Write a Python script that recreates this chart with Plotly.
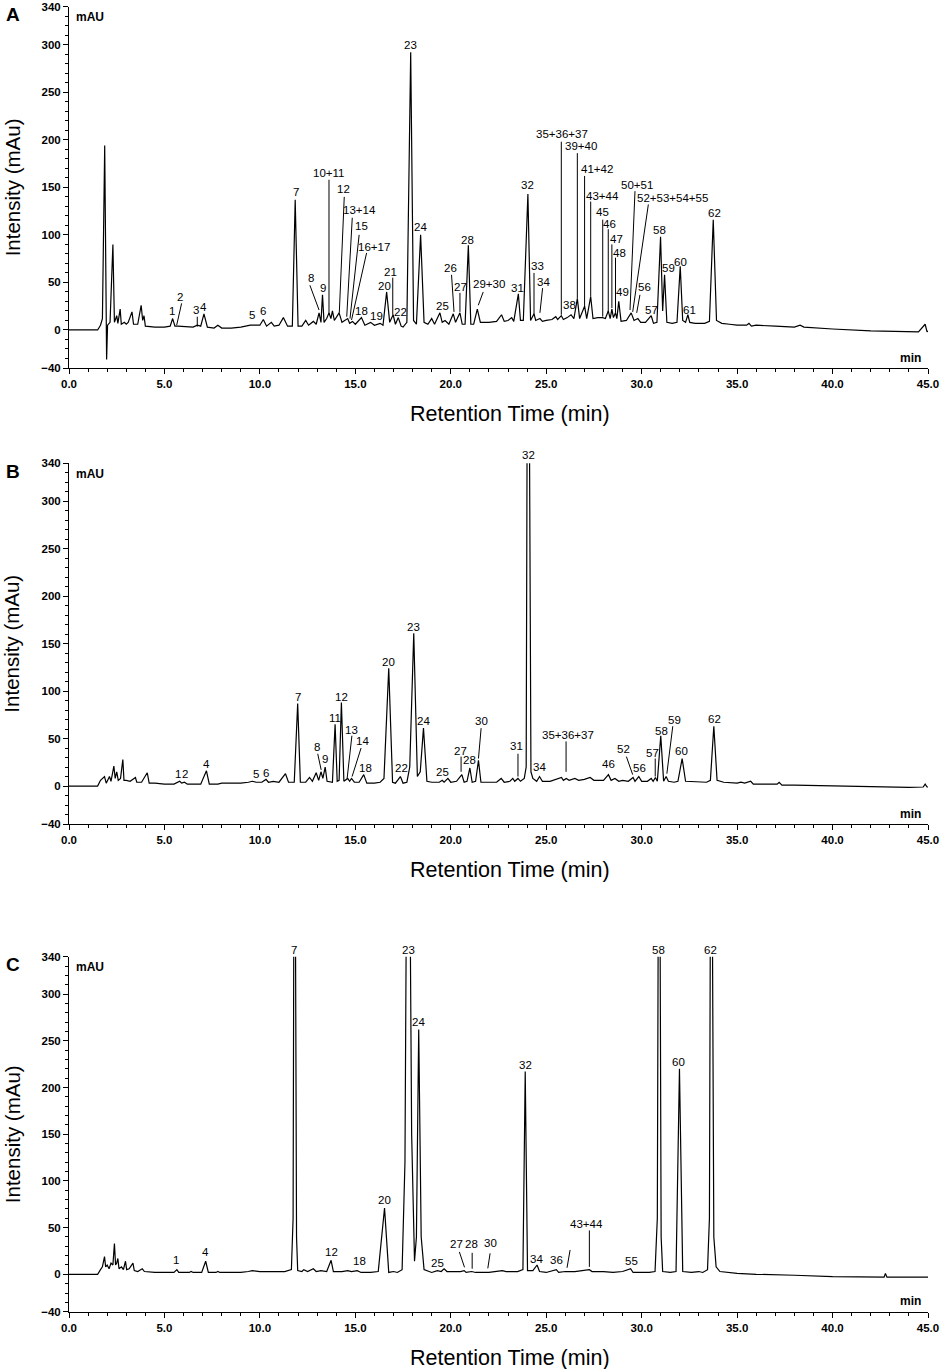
import plotly.graph_objects as go

# chromatogram traces: (retention time [min], intensity [mAU])
a_trace = [
    (0.0, 0), (1.5, 0), (1.65, 5), (1.75, 12), (1.87, 194), (1.93, 5), (1.97, -31), (2.02, 5),
    (2.15, 8), (2.3, 90), (2.38, 8), (2.5, 15), (2.56, 7), (2.68, 22), (2.74, 6), (2.9, 8),
    (3.0, 6), (3.1, 8), (3.3, 19), (3.38, 6), (3.6, 6), (3.78, 26), (3.86, 10), (3.93, 15),
    (4.0, 4), (4.5, 3), (5.0, 3), (5.3, 4), (5.43, 12), (5.55, 4), (5.7, 4), (6.5, 3),
    (6.72, 5), (6.9, 4), (7.07, 17), (7.25, 3), (7.6, 2), (7.8, 5), (8.0, 2), (8.5, 2),
    (9.0, 3), (9.5, 5), (9.8, 5), (10.0, 5), (10.18, 11), (10.35, 4), (10.6, 8), (10.75, 4),
    (11.0, 5), (11.23, 13), (11.45, 4), (11.7, 4), (11.85, 137), (12.0, 4), (12.2, 4),
    (12.4, 10), (12.55, 5), (12.8, 9), (12.95, 6), (13.1, 18), (13.2, 8), (13.28, 37),
    (13.36, 8), (13.5, 12), (13.62, 18), (13.72, 12), (13.8, 20), (13.9, 10), (14.15, 18),
    (14.3, 8), (14.6, 12), (14.7, 7), (14.85, 9), (15.0, 6), (15.32, 13), (15.5, 5),
    (15.8, 8), (16.0, 5), (16.3, 7), (16.45, 5), (16.64, 40), (16.8, 8), (16.98, 16),
    (17.1, 6), (17.25, 13), (17.4, 4), (17.5, 3), (17.7, 8), (17.9, 292), (18.05, 10),
    (18.2, 6), (18.42, 100), (18.6, 8), (18.8, 6), (19.0, 12), (19.15, 6), (19.43, 18),
    (19.55, 8), (19.7, 10), (19.9, 6), (20.13, 17), (20.25, 8), (20.48, 18), (20.6, 6),
    (20.75, 6), (20.92, 89), (21.05, 6), (21.2, 6), (21.39, 22), (21.55, 8), (22.0, 8),
    (22.4, 9), (22.66, 16), (22.8, 9), (23.0, 10), (23.19, 13), (23.3, 9), (23.54, 38),
    (23.65, 10), (23.8, 10), (24.04, 143), (24.18, 10), (24.36, 17), (24.45, 10),
    (24.67, 12), (24.8, 9), (25.0, 10), (25.3, 11), (25.5, 14), (25.6, 11), (25.79, 15),
    (25.9, 11), (26.1, 13), (26.3, 16), (26.45, 12), (26.63, 33), (26.75, 12), (27.01, 25),
    (27.12, 12), (27.33, 35), (27.45, 12), (27.7, 13), (27.95, 13), (28.1, 12), (28.25, 20),
    (28.35, 12), (28.44, 22), (28.52, 13), (28.63, 18), (28.7, 12), (28.8, 30), (28.92, 9),
    (29.2, 10), (29.45, 18), (29.6, 10), (29.8, 12), (29.95, 8), (30.2, 8), (30.5, 15),
    (30.62, 7), (30.8, 8), (30.99, 98), (31.1, 20), (31.2, 58), (31.32, 8), (31.6, 7),
    (31.85, 8), (32.02, 67), (32.15, 10), (32.3, 8), (32.42, 16), (32.52, 8), (32.8, 7),
    (33.3, 7), (33.55, 9), (33.75, 116), (33.92, 10), (34.2, 7), (34.6, 6), (35.0, 5),
    (35.5, 5), (35.62, 7), (35.75, 4), (36.0, 5), (37.0, 4), (38.0, 3), (38.3, 5), (38.5, 3),
    (40.0, 1), (42.0, -1), (44.5, -2), (44.85, 6), (44.95, -2), (45.0, -1),
]

b_trace = [
    (0.0, 0), (1.5, 0), (1.65, 6), (1.86, 10), (1.95, 3), (2.05, 8), (2.12, 10), (2.2, 5),
    (2.35, 21), (2.42, 8), (2.5, 15), (2.58, 6), (2.7, 8), (2.82, 28), (2.88, 6), (3.0, 6),
    (3.2, 5), (3.48, 9), (3.55, 4), (3.8, 4), (4.1, 14), (4.2, 3), (4.5, 3), (5.0, 2),
    (5.5, 2), (5.8, 5), (5.9, 3), (6.05, 4), (6.2, 2), (6.9, 2), (7.2, 16), (7.35, 2),
    (7.8, 2), (8.0, 3), (9.0, 3), (9.4, 4), (9.6, 5), (9.8, 4), (10.1, 4), (10.32, 7),
    (10.45, 4), (10.7, 5), (11.0, 4), (11.34, 13), (11.5, 4), (11.8, 4), (11.98, 87),
    (12.12, 4), (12.4, 4), (12.6, 9), (12.75, 5), (12.95, 14), (13.08, 6), (13.2, 15),
    (13.3, 8), (13.42, 20), (13.52, 5), (13.8, 4), (13.94, 65), (14.05, 5), (14.15, 6),
    (14.27, 88), (14.4, 5), (14.6, 8), (14.7, 5), (14.8, 8), (14.95, 4), (15.2, 4),
    (15.44, 12), (15.6, 3), (16.0, 3), (16.3, 4), (16.5, 8), (16.75, 124), (16.95, 4),
    (17.1, 3), (17.36, 10), (17.5, 3), (17.7, 4), (17.85, 20), (18.06, 161), (18.25, 10),
    (18.4, 15), (18.57, 61), (18.75, 5), (19.0, 4), (19.4, 4), (19.55, 6), (19.65, 4),
    (19.85, 8), (20.0, 4), (20.3, 5), (20.58, 12), (20.7, 4), (20.85, 5), (21.0, 19),
    (21.12, 4), (21.3, 5), (21.45, 27), (21.58, 4), (22.0, 4), (22.4, 4), (22.64, 8),
    (22.8, 4), (23.1, 5), (23.25, 8), (23.35, 5), (23.52, 8), (23.65, 5), (23.85, 8),
    (23.95, 20), (24.0, 380), (24.12, 380), (24.2, 15), (24.3, 8), (24.5, 5), (24.65, 10),
    (24.8, 5), (25.2, 5), (25.5, 7), (25.8, 9), (25.9, 6), (26.05, 8), (26.2, 6), (26.5, 8),
    (26.7, 6), (27.0, 7), (27.3, 9), (27.5, 6), (27.8, 6), (28.0, 6), (28.26, 12), (28.4, 6),
    (28.6, 8), (28.8, 5), (29.0, 6), (29.3, 5), (29.55, 9), (29.65, 5), (29.85, 10),
    (30.0, 5), (30.3, 5), (30.5, 8), (30.6, 5), (30.72, 9), (30.82, 5), (31.0, 53),
    (31.15, 5), (31.28, 10), (31.4, 5), (31.7, 4), (31.9, 5), (32.12, 29), (32.3, 5),
    (33.0, 4), (33.4, 4), (33.6, 6), (33.78, 63), (33.95, 6), (34.3, 4), (35.0, 3),
    (35.2, 4), (35.4, 3), (35.71, 5), (35.85, 2), (36.5, 2), (37.1, 2), (37.2, 4),
    (37.35, 1), (38.0, 1), (40.0, 0), (42.0, -1), (44.0, -1.5), (44.75, -1), (44.85, 2),
    (44.95, -1), (45.0, -1),
]

c_trace = [
    (0.0, 0), (1.5, 0), (1.65, 5), (1.75, 8), (1.86, 19), (1.92, 8), (2.0, 10), (2.1, 6),
    (2.2, 12), (2.3, 10), (2.38, 33), (2.44, 10), (2.5, 12), (2.56, 17), (2.62, 6),
    (2.75, 8), (2.85, 5), (2.96, 14), (3.02, 5), (3.15, 6), (3.35, 12), (3.42, 4), (3.6, 3),
    (3.84, 6), (3.95, 3), (4.5, 2), (5.0, 2), (5.5, 2), (5.65, 5), (5.75, 2), (6.3, 2),
    (6.4, 3), (6.5, 2), (6.95, 2), (7.16, 14), (7.3, 2), (7.7, 2), (7.8, 3), (7.9, 2),
    (9.0, 2), (9.4, 3), (9.6, 4), (10.0, 3), (10.5, 3), (11.3, 3), (11.65, 5), (11.74, 60),
    (11.78, 400), (11.86, 400), (11.92, 40), (11.98, 4), (12.2, 3), (12.3, 5), (12.5, 3),
    (12.8, 6), (12.95, 3), (13.2, 4), (13.5, 3), (13.73, 15), (13.85, 3), (14.3, 3),
    (14.6, 4), (14.8, 3), (15.1, 4), (15.3, 2), (15.8, 2), (16.2, 3), (16.53, 71),
    (16.75, 2), (17.0, 3), (17.2, 2), (17.45, 5), (17.6, 120), (17.68, 420), (17.86, 420),
    (17.95, 150), (18.1, 14), (18.2, 40), (18.32, 262), (18.45, 40), (18.6, 5), (19.0, 2),
    (19.3, 4), (19.5, 3), (19.65, 6), (19.8, 3), (20.5, 3), (20.7, 4), (20.8, 2), (21.1, 3),
    (21.3, 2), (22.0, 2), (22.5, 3), (22.7, 4), (22.9, 3), (23.5, 3), (23.78, 5),
    (23.9, 217), (24.02, 4), (24.3, 4), (24.52, 10), (24.65, 3), (25.0, 2), (25.53, 5),
    (25.65, 2), (26.0, 3), (26.5, 3), (27.0, 4), (27.26, 5), (27.4, 3), (28.0, 3), (28.5, 2),
    (29.0, 3), (29.42, 6), (29.55, 2), (30.0, 2), (30.4, 2), (30.7, 3), (30.82, 60),
    (30.87, 400), (30.96, 400), (31.02, 40), (31.1, 3), (31.5, 2), (31.8, 3), (31.98, 220),
    (32.15, 3), (32.6, 2), (33.0, 3), (33.2, 2), (33.45, 5), (33.55, 60), (33.6, 400),
    (33.7, 400), (33.78, 40), (33.9, 8), (34.1, 3), (35.0, 1), (36.0, 0), (38.0, -1),
    (40.0, -2.5), (42.7, -3), (42.77, 1), (42.85, -3), (45.0, -3),
]

# peak labels: (text, time, intensity)
a_labels = [
    ("1", 5.4, 20), ("2", 5.83, 35), ("3", 6.65, 21), ("4", 7.04, 24), ("5", 9.57, 16),
    ("6", 10.18, 20), ("7", 11.89, 145), ("8", 12.66, 55), ("9", 13.29, 44),
    ("10+11", 13.58, 165), ("12", 14.37, 148), ("13+14", 15.24, 126), ("15", 15.33, 109),
    ("16+17", 15.98, 87), ("18", 15.33, 20), ("19", 16.12, 15), ("20", 16.52, 46),
    ("21", 16.82, 61), ("22", 17.38, 19), ("23", 17.9, 300), ("24", 18.42, 108),
    ("25", 19.57, 25), ("26", 19.96, 65), ("27", 20.53, 45), ("28", 20.88, 95),
    ("29+30", 22.02, 48), ("31", 23.48, 44), ("32", 24.04, 152), ("33", 24.53, 67),
    ("34", 24.85, 50), ("35+36+37", 25.81, 206), ("38", 26.24, 26), ("39+40", 26.8, 193),
    ("41+42", 27.64, 169), ("43+44", 27.94, 141), ("45", 27.96, 124), ("46", 28.34, 111),
    ("47", 28.69, 96), ("48", 28.83, 81), ("49", 29.0, 40), ("50+51", 29.77, 153),
    ("52+53+54+55", 31.6, 139), ("56", 30.17, 45), ("57", 30.52, 21), ("58", 30.96, 105),
    ("59", 31.43, 65), ("60", 32.06, 72), ("61", 32.53, 21), ("62", 33.79, 123),
]
b_labels = [
    ("1", 5.73, 13), ("2", 6.08, 13), ("4", 7.2, 23), ("5", 9.77, 13), ("6", 10.33, 14),
    ("7", 12.02, 94), ("8", 13.0, 41), ("9", 13.43, 28), ("11", 13.94, 72), ("12", 14.26, 94),
    ("13", 14.82, 59), ("14", 15.36, 47), ("18", 15.51, 19), ("20", 16.75, 131),
    ("22", 17.43, 19), ("23", 18.06, 168), ("24", 18.59, 68), ("25", 19.58, 15),
    ("27", 20.5, 37), ("28", 21.0, 27), ("30", 21.62, 68), ("31", 23.43, 42),
    ("32", 24.09, 349), ("34", 24.65, 20), ("35+36+37", 26.13, 54), ("46", 28.26, 23),
    ("52", 29.05, 39), ("56", 29.89, 19), ("57", 30.55, 35), ("58", 31.02, 58),
    ("59", 31.72, 70), ("60", 32.1, 37), ("62", 33.8, 71),
]
c_labels = [
    ("1", 5.58, 15), ("4", 7.13, 24), ("7", 11.81, 347), ("12", 13.73, 24), ("18", 15.21, 14),
    ("20", 16.52, 80), ("23", 17.8, 347), ("24", 18.32, 270), ("25", 19.28, 12.5),
    ("27", 20.28, 33), ("28", 21.08, 33), ("30", 22.06, 34), ("32", 23.9, 224),
    ("34", 24.5, 16), ("36", 25.52, 15), ("43+44", 27.12, 54), ("55", 29.45, 14),
    ("58", 30.88, 347), ("60", 31.95, 227), ("62", 33.62, 347),
]

# leader lines from labels to peaks: (t0, v0, t1, v1)
a_leaders = [
    (5.9, 28, 5.64, 5), (6.72, 14, 6.72, 3.5), (12.62, 47, 13.1, 21), (13.62, 158, 13.62, 16),
    (14.42, 140, 14.16, 18), (14.84, 118, 14.55, 14), (15.2, 100, 14.72, 12),
    (15.59, 81, 14.8, 10.5), (16.96, 55, 16.96, 16), (20.04, 58, 20.17, 19),
    (20.48, 39, 20.48, 19), (21.7, 40, 21.44, 26), (24.36, 60, 24.36, 16),
    (24.81, 44, 24.67, 18), (25.79, 198, 25.79, 16), (26.63, 186, 26.63, 33),
    (27.01, 162, 27.01, 25), (27.33, 135, 27.33, 35), (27.96, 116, 27.96, 14),
    (28.25, 106, 28.25, 19), (28.44, 90, 28.44, 23), (28.63, 76, 28.63, 18),
    (29.65, 146, 29.39, 21), (30.35, 132, 29.53, 19), (29.91, 37, 29.74, 18),
]
b_leaders = [
    (13.03, 34, 13.21, 17), (14.82, 53, 14.57, 8), (15.3, 40, 14.83, 10),
    (20.54, 31, 20.54, 15), (21.59, 61, 21.45, 29), (23.52, 34, 23.52, 10),
    (26.04, 47, 26.04, 15), (29.2, 31, 29.53, 12), (30.71, 29, 30.71, 10),
    (31.63, 63, 31.32, 13),
]
c_leaders = [
    (20.45, 24, 20.72, 7.5), (21.12, 23, 21.12, 6), (22.06, 22.5, 21.94, 6.4),
    (26.25, 26, 26.09, 7), (27.26, 47, 27.26, 8),
]

panels = [
    ("A", a_trace, a_labels, a_leaders),
    ("B", b_trace, b_labels, b_leaders),
    ("C", c_trace, c_labels, c_leaders),
]

W, H = 941, 1369
Y_MIN, Y_MAX = -40, 340
# pixel layout of each panel: (top of plot, bottom of plot)
panel_px = [(6.7, 368), (463.3, 824), (956.7, 1311.7)]
x_px = (69, 928)


def px_x(p):
    return p / W


def px_y(p):
    return 1 - p / H


fig = go.Figure()
annotations = []
shapes = []
font_family = "Liberation Sans, Arial, sans-serif"

for i, (letter, trace, labels, leaders) in enumerate(panels):
    n = "" if i == 0 else str(i + 1)
    xref, yref = "x" + n, "y" + n
    top, bot = panel_px[i]

    fig.add_trace(go.Scatter(
        x=[p[0] for p in trace], y=[p[1] for p in trace],
        mode="lines", line=dict(color="black", width=1.2),
        xaxis=xref, yaxis=yref, showlegend=False, hoverinfo="skip",
    ))

    axis_common = dict(
        showline=True, linecolor="black", linewidth=1, ticks="outside",
        ticklen=5, tickcolor="black", showgrid=False, zeroline=False,
        tickfont=dict(family=font_family, size=11.5, color="black", weight="bold"),
    )
    fig.update_layout({
        "xaxis" + n: dict(
            domain=[px_x(x_px[0]), px_x(x_px[1])], range=[0, 45], anchor=yref,
            tickvals=list(range(0, 50, 5)), ticktext=[f"{v:.1f}" for v in range(0, 50, 5)],
            minor=dict(dtick=1, ticks="outside", ticklen=3, tickcolor="black"),
            **axis_common,
        ),
        "yaxis" + n: dict(
            domain=[px_y(bot), px_y(top)], range=[Y_MIN, Y_MAX], anchor=xref,
            tickvals=[-40, 0, 50, 100, 150, 200, 250, 300, 340],
            minor=dict(dtick=10, tick0=0, ticks="outside", ticklen=3, tickcolor="black"),
            **axis_common,
        ),
    })

    for text, t, v in labels:
        if v > Y_MAX:
            # labels above the clipped peaks sit outside the axis range
            lab_yref, lab_y = yref + " domain", (v - Y_MIN) / (Y_MAX - Y_MIN)
        else:
            lab_yref, lab_y = yref, v
        annotations.append(dict(
            x=t, y=lab_y, xref=xref, yref=lab_yref, text=text, showarrow=False,
            xanchor="center", yanchor="middle",
            font=dict(family=font_family, size=11.5, color="black"),
        ))
    for t0, v0, t1, v1 in leaders:
        shapes.append(dict(
            type="line", x0=t0, y0=v0, x1=t1, y1=v1, xref=xref, yref=yref,
            line=dict(color="black", width=1),
        ))

    annotations.append(dict(
        x=0.26, y=329, xref=xref, yref=yref, text="mAU", showarrow=False,
        xanchor="left", yanchor="middle",
        font=dict(family=font_family, size=12, color="black", weight="bold"),
    ))
    annotations.append(dict(
        x=44.1, y=-29, xref=xref, yref=yref, text="min", showarrow=False,
        xanchor="center", yanchor="middle",
        font=dict(family=font_family, size=12, color="black", weight="bold"),
    ))
    # panel letter
    annotations.append(dict(
        x=px_x(13), y=px_y(top + 8), xref="paper", yref="paper", text=letter,
        showarrow=False, xanchor="center", yanchor="middle",
        font=dict(family=font_family, size=19, color="black", weight="bold"),
    ))
    # axis titles
    annotations.append(dict(
        x=px_x(510), y=px_y(bot + 46), xref="paper", yref="paper",
        text="Retention Time (min)", showarrow=False, xanchor="center", yanchor="middle",
        font=dict(family=font_family, size=21.5, color="black"),
    ))
    annotations.append(dict(
        x=px_x(12), y=px_y((top + bot) / 2), xref="paper", yref="paper",
        text="Intensity (mAu)", showarrow=False, textangle=-90,
        xanchor="center", yanchor="middle",
        font=dict(family=font_family, size=20.5, color="black"),
    ))

fig.update_layout(
    width=W, height=H, margin=dict(l=0, r=0, t=0, b=0, autoexpand=False),
    paper_bgcolor="white", plot_bgcolor="white",
    annotations=annotations, shapes=shapes,
)

# drop the browser's default body margin so the figure sits at the page corner
fig.write_html(
    "out.html",
    config={"displayModeBar": False},
    post_script="document.body.style.margin = '0';",
)
